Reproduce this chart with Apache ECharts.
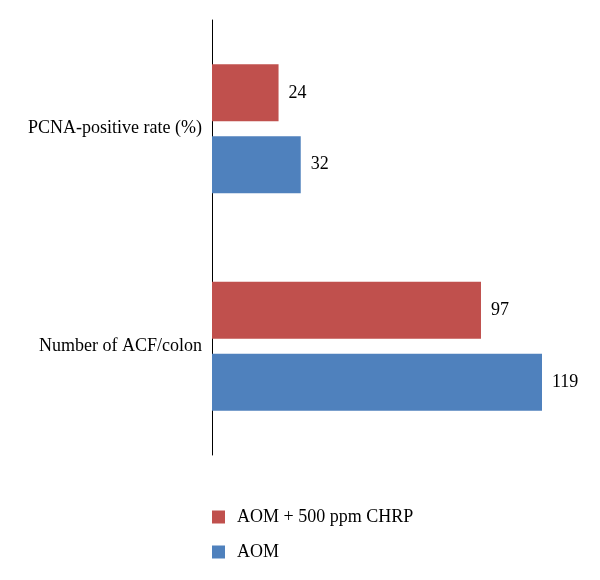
<!DOCTYPE html>
<html>
<head>
<meta charset="utf-8">
<script src="https://cdn.jsdelivr.net/npm/echarts@6/dist/echarts.min.js"></script>
<style>
html, body { margin: 0; padding: 0; background: #fff; }
#chart { width: 600px; height: 580px; }
</style>
</head>
<body>
<div id="chart"></div>
<script>
var categories = ['PCNA-positive rate (%)', 'Number of ACF/colon'];
var seriesNames = ['AOM + 500 ppm CHRP', 'AOM'];
var chrpValues = [24, 97];
var aomValues = [32, 119];

var fontFam = '"Liberation Serif", "DejaVu Serif", serif';

var chart = echarts.init(document.getElementById('chart'));

var option = {
	animation : false,
	backgroundColor : '#fff',
	color : [ '#C0504D', '#4F81BD' ],
	grid : {
		left : 212,
		top : 20,
		width : 360.5,
		height : 435
	},
	legend : {
		orient : 'vertical',
		left : 212,
		top : 508,
		padding : 0,
		itemWidth : 13,
		itemHeight : 13,
		itemGap : 17,
		icon : 'rect',
		data : seriesNames,
		textStyle : {
			fontFamily : fontFam,
			fontSize : 18,
			color : '#000',
			lineHeight : 15,
			padding : [ 0, 0, 0, 7 ]
		}
	},
	xAxis : {
		type : 'value',
		min : 0,
		max : 130,
		show : false
	},
	yAxis : {
		type : 'category',
		inverse : true,
		data : categories,
		axisLine : {
			lineStyle : {
				color : '#000',
				width : 1
			}
		},
		axisTick : { show : false },
		axisLabel : {
			margin : 10,
			fontFamily : fontFam,
			fontSize : 18,
			color : '#000'
		}
	},
	series : [ {
		name : seriesNames[0],
		type : 'bar',
		barWidth : 57,
		barGap : '26%',
		data : chrpValues,
		label : {
			show : true,
			position : 'right',
			distance : 10,
			fontFamily : fontFam,
			fontSize : 18,
			color : '#000'
		}
	}, {
		name : seriesNames[1],
		type : 'bar',
		barWidth : 57,
		barGap : '26%',
		data : aomValues,
		label : {
			show : true,
			position : 'right',
			distance : 10,
			fontFamily : fontFam,
			fontSize : 18,
			color : '#000'
		}
	} ]
};

chart.setOption(option);
</script>
</body>
</html>
